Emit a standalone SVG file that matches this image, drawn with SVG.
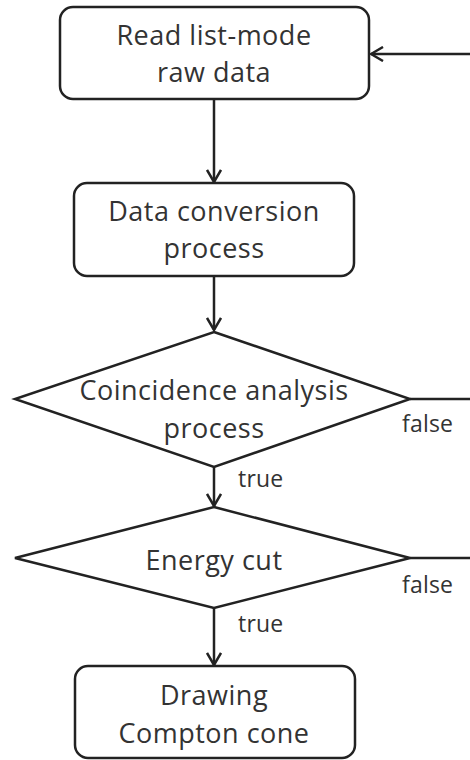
<svg xmlns="http://www.w3.org/2000/svg" width="470" height="760" viewBox="0 0 470 760">
<style>
.n{fill:#fff;stroke:#222;stroke-width:2.5}
.t{font-family:"Open Sans",sans-serif;font-size:27px;letter-spacing:0.5px;fill:#333;text-anchor:middle}
.l{font-family:"Open Sans",sans-serif;font-size:23px;letter-spacing:0.2px;fill:#333}
.c{fill:none;stroke:#222;stroke-width:2.5}
</style>
<defs>
<marker id="a" viewBox="0 0 14 16" refX="13" refY="8" markerWidth="14" markerHeight="16" markerUnits="userSpaceOnUse" orient="auto">
<path d="M1,1 L13,8 L1,15" fill="none" stroke="#222" stroke-width="2.5"/>
</marker>
</defs>
<g id="connectors">
<path class="c" d="M470,54 H371" marker-end="url(#a)"/>
<path class="c" d="M214,100 V182" marker-end="url(#a)"/>
<path class="c" d="M214,276 V330" marker-end="url(#a)"/>
<path class="c" d="M410,399 H470"/>
<path class="c" d="M214,467 V506" marker-end="url(#a)"/>
<path class="c" d="M410,558 H470"/>
<path class="c" d="M214,608 V665" marker-end="url(#a)"/>
<text class="l" x="402" y="432">false</text>
<text class="l" x="238" y="487">true</text>
<text class="l" x="402" y="593">false</text>
<text class="l" x="238" y="632">true</text>
</g>
<g id="read">
<rect class="n" x="60" y="7" width="309" height="92" rx="13"/>
<text class="t" x="214" y="45">Read list-mode</text>
<text class="t" x="214" y="82">raw data</text>
</g>
<g id="convert">
<rect class="n" x="74" y="183" width="280" height="93" rx="13"/>
<text class="t" x="214" y="221">Data conversion</text>
<text class="t" x="214" y="258">process</text>
</g>
<g id="coincidence">
<polygon class="n" points="214,332 410,399 214,467 15,399"/>
<text class="t" x="214" y="400">Coincidence analysis</text>
<text class="t" x="214" y="438">process</text>
</g>
<g id="energy">
<polygon class="n" points="214,507 410,558 214,608 15,558"/>
<text class="t" x="214" y="570">Energy cut</text>
</g>
<g id="compton">
<rect class="n" x="75" y="666" width="280" height="92" rx="13"/>
<text class="t" x="214" y="705">Drawing</text>
<text class="t" x="214" y="743">Compton cone</text>
</g>
</svg>
